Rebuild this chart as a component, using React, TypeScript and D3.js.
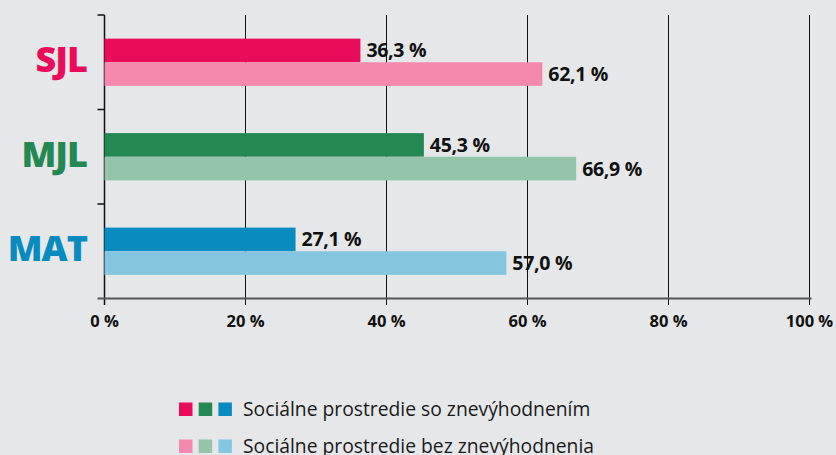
import React, { useEffect, useRef } from 'react'
import * as d3 from 'd3'

const categories = ['SJL', 'MJL', 'MAT']
const withDisadvantage = [36.3, 45.3, 27.1]
const withoutDisadvantage = [62.1, 66.9, 57.0]
const xTicks = [0, 20, 40, 60, 80, 100]
const darkColors = ['#ea0c5a', '#238852', '#0a8bbf']
const lightColors = ['#f589ad', '#94c4a9', '#84c6df']
const legendLabels = ['Sociálne prostredie so znevýhodnením', 'Sociálne prostredie bez znevýhodnenia']

const W = 836
const H = 455
const FONT = "'Open Sans', sans-serif"

const fmt = (v: number) => v.toFixed(1).replace('.', ',') + ' %'

export default function App() {
  const ref = useRef<SVGSVGElement>(null)

  useEffect(() => {
    const svg = d3.select(ref.current)
    svg.selectAll('*').remove()

    svg.append('rect').attr('width', W).attr('height', H).attr('fill', '#e6e7e9')

    const x = d3.scaleLinear().domain([0, 100]).range([104.5, 809.5])
    const y = d3.scaleBand<string>()
      .domain(categories)
      .range([15, 298.5])
      .paddingInner(0.5)
      .paddingOuter(0.25)
    const sub = d3.scaleBand<string>().domain(['a', 'b']).range([0, y.bandwidth()])

    // vertical grid lines + ticks below axis
    svg.append('g')
      .selectAll('line')
      .data(xTicks.slice(1))
      .enter().append('line')
      .attr('x1', d => x(d)).attr('x2', d => x(d))
      .attr('y1', 15).attr('y2', 305)
      .attr('stroke', '#111').attr('stroke-width', 1)

    // left axis
    const step = y.step()
    const yTickPos = [15, 15 + step, 15 + 2 * step]
    svg.append('line')
      .attr('x1', x(0)).attr('x2', x(0)).attr('y1', 15).attr('y2', 305)
      .attr('stroke', '#111').attr('stroke-width', 1.5)
    svg.append('g')
      .selectAll('line')
      .data(yTickPos)
      .enter().append('line')
      .attr('x1', x(0) - 7).attr('x2', x(0))
      .attr('y1', d => d).attr('y2', d => d)
      .attr('stroke', '#111').attr('stroke-width', 1.5)

    // bottom axis line
    svg.append('line')
      .attr('x1', x(0) - 7).attr('x2', x(100) + 2)
      .attr('y1', 298.5).attr('y2', 298.5)
      .attr('stroke', '#555').attr('stroke-width', 2)

    svg.append('g')
      .selectAll('text')
      .data(xTicks)
      .enter().append('text')
      .attr('x', d => x(d))
      .attr('y', 327)
      .attr('text-anchor', 'middle')
      .attr('font-family', FONT)
      .attr('font-weight', 700)
      .attr('font-size', 16.5)
      .attr('fill', '#111')
      .text(d => d + ' %')

    // bars
    const groups = svg.append('g')
      .selectAll('g')
      .data(categories)
      .enter().append('g')
      .attr('transform', d => 'translate(0,' + y(d) + ')')

    const series = [withDisadvantage, withoutDisadvantage]
    const subKeys = ['a', 'b']
    groups.each(function (cat, i) {
      const g = d3.select(this)
      series.forEach((vals, s) => {
        const v = vals[i]
        const yy = sub(subKeys[s])!
        g.append('rect')
          .attr('x', x(0))
          .attr('y', yy)
          .attr('width', x(v) - x(0))
          .attr('height', sub.bandwidth())
          .attr('fill', s === 0 ? darkColors[i] : lightColors[i])
        g.append('text')
          .attr('x', x(v) + 6)
          .attr('y', yy + sub.bandwidth() / 2)
          .attr('dy', '0.36em')
          .attr('font-family', FONT)
          .attr('font-weight', 700)
          .attr('font-size', 19.5)
          .attr('letter-spacing', -0.3)
          .attr('fill', '#111')
          .text(fmt(v))
      })
      g.append('text')
        .attr('x', 87)
        .attr('y', y.bandwidth() / 2 + 10)
        .attr('text-anchor', 'end')
        .attr('font-family', FONT)
        .attr('font-weight', 800)
        .attr('font-size', 36)
        .attr('letter-spacing', -1)
        .attr('fill', darkColors[i])
        .text(cat)
    })

    // legend
    const legend = svg.append('g')
    legendLabels.forEach((label, r) => {
      const cy = 409 + r * 37
      const cols = r === 0 ? darkColors : lightColors
      cols.forEach((c, k) => {
        legend.append('rect')
          .attr('x', 179 + k * 19.7)
          .attr('y', cy - 6.5)
          .attr('width', 13.5)
          .attr('height', 13.5)
          .attr('fill', c)
      })
      legend.append('text')
        .attr('x', 243)
        .attr('y', cy + 7)
        .attr('font-family', FONT)
        .attr('font-size', 19.3)
        .attr('fill', '#1a1a1a')
        .text(label)
    })
  }, [])

  return (
    <svg ref={ref} width={W} height={H} style={{ position: 'absolute', left: 0, top: 0, display: 'block' }} />
  )
}
